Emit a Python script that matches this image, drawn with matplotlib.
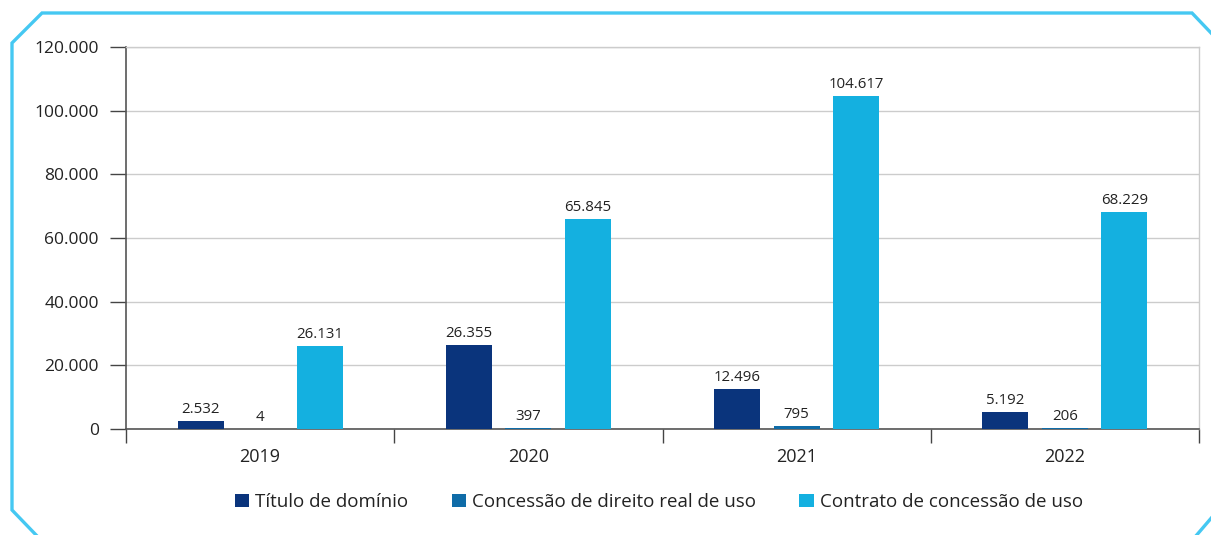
import numpy as np
import matplotlib.pyplot as plt
from matplotlib.lines import Line2D
from matplotlib.patches import Patch

plt.rcParams['font.family'] = ['Open Sans', 'DejaVu Sans']

# 数据
anos = ['2019', '2020', '2021', '2022']
titulo_dominio = [2532, 26355, 12496, 5192]
concessao_direito = [4, 397, 795, 206]
contrato_concessao = [26131, 65845, 104617, 68229]
series_nomes = ['Título de domínio', 'Concessão de direito real de uso',
                'Contrato de concessão de uso']
cores = ['#0a347c', '#0f6ca8', '#14b0e0']

def fmt(v):
    return f'{v:,.0f}'.replace(',', '.')

fig = plt.figure(figsize=(12.11, 5.35), dpi=100)
ax = fig.add_axes([126 / 1211, 1 - 429 / 535, (1199 - 126) / 1211, (429 - 47) / 535])

x = np.arange(len(anos))
largura = 0.171
desloc = 0.222
for k, (vals, cor) in enumerate(zip([titulo_dominio, concessao_direito, contrato_concessao], cores)):
    barras = ax.bar(x + (k - 1) * desloc, vals, largura, color=cor, zorder=3)
    for b, v in zip(barras, vals):
        ax.annotate(fmt(v), (b.get_x() + b.get_width() / 2, v), xytext=(0, 3),
                    textcoords='offset points', ha='center', va='bottom',
                    fontsize=10.8, color='#222222')

ax.set_xlim(-0.5, len(anos) - 0.5)
ax.set_ylim(0, 120000)
ax.set_yticks(np.arange(0, 120001, 20000))
ax.set_yticklabels([fmt(v) for v in np.arange(0, 120001, 20000)])
ax.yaxis.grid(True, color='#cccccc', linewidth=1, zorder=0)

ax.set_xticks(x)
ax.set_xticklabels(anos)
ax.set_xticks(np.arange(-0.5, len(anos)), minor=True)
ax.tick_params(axis='x', which='major', length=0, pad=14, labelsize=13, labelcolor='#222222')
ax.tick_params(axis='x', which='minor', length=10, width=1, color='#444444')
ax.tick_params(axis='y', length=11.5, width=1, pad=8, labelsize=12.5,
               color='#444444', labelcolor='#222222')

for s in ['left', 'bottom']:
    ax.spines[s].set_color('#555555')
    ax.spines[s].set_linewidth(1.2)
for s in ['top', 'right']:
    ax.spines[s].set_color('#cccccc')
    ax.spines[s].set_linewidth(1)

handles = [Patch(facecolor=c, edgecolor='none') for c in cores]
fig.legend(handles, series_nomes, loc='center', bbox_to_anchor=(659 / 1211, 1 - 502 / 535),
           ncol=3, frameon=False, fontsize=13.5, handlelength=0.75, handleheight=0.75,
           handletextpad=0.35, columnspacing=2.3, labelcolor='#222222')

# moldura azul com cantos chanfrados
W, H = 1211, 535
px = [38, 12, 12, 42, 1192, 1213]
py = [537, 510, 43, 13, 13, 35]
fig.add_artist(Line2D(np.array(px) / W, 1 - np.array(py) / H, color='#45c8f2',
                      linewidth=2.4, transform=fig.transFigure, solid_joinstyle='miter'))
fig.add_artist(Line2D(np.array([1213, 1195]) / W, 1 - np.array([516, 537]) / H,
                      color='#45c8f2', linewidth=2.4, transform=fig.transFigure))

fig.savefig('out.png', dpi=100)
